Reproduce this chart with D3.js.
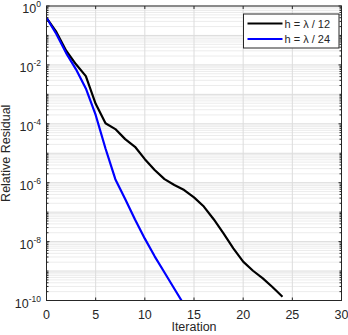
<!DOCTYPE html>
<html>
<head>
<meta charset="utf-8">
<script src="https://cdn.jsdelivr.net/npm/d3@7"></script>
<style>
  body { margin: 0; background: #fff; }
  text { font-family: "Liberation Sans", Arial, sans-serif; fill: #262626; }
</style>
</head>
<body>
<div id="chart"></div>
<script>
// log10 of relative residual per iteration
const iterCoarse = d3.range(0, 25);
const logResCoarse = [-0.40, -0.88, -1.52, -1.98, -2.38, -3.32, -3.98, -4.18, -4.52, -4.78,
    -5.20, -5.57, -5.88, -6.08, -6.25, -6.50, -6.81, -7.24, -7.72, -8.23,
    -8.68, -8.99, -9.25, -9.55, -9.87];
const iterFine = d3.range(0, 15);
const logResFine = [-0.40, -0.95, -1.60, -2.15, -2.80, -3.70, -4.84, -5.88, -6.55, -7.25,
    -7.90, -8.50, -9.05, -9.60, -10.15];

const seriesNames = ["h = \u03bb / 12", "h = \u03bb / 24"];
const xTicks = [0, 5, 10, 15, 20, 25, 30];
const yTickExp = [0, -2, -4, -6, -8, -10];

const W = 348, H = 335;
const margin = {top: 6, right: 6.5, bottom: 34.5, left: 46.5};
const width = W - margin.left - margin.right,
    height = H - margin.top - margin.bottom;

const svg = d3.select("#chart").append("svg")
    .attr("width", W).attr("height", H);
const g = svg.append("g")
    .attr("transform", `translate(${margin.left},${margin.top})`);

const x = d3.scaleLinear().domain([0, 30]).range([0, width]);
const y = d3.scaleLog().domain([1e-10, 1]).range([height, 0]);

// minor grid
const minorVals = [];
for (let e = -10; e < 0; e++) {
    for (let k = 2; k <= 9; k++) minorVals.push(k * Math.pow(10, e));
}
g.append("g").selectAll("line").data(minorVals).join("line")
    .attr("x1", 0).attr("x2", width)
    .attr("y1", d => y(d)).attr("y2", d => y(d))
    .attr("stroke", "#ececec").attr("stroke-width", 1);

// major grid (every decade)
const decades = d3.range(-10, 1).map(e => Math.pow(10, e));
g.append("g").selectAll("line").data(decades).join("line")
    .attr("x1", 0).attr("x2", width)
    .attr("y1", d => y(d)).attr("y2", d => y(d))
    .attr("stroke", "#dcdcdc").attr("stroke-width", 1);
g.append("g").selectAll("line").data(xTicks).join("line")
    .attr("x1", d => x(d)).attr("x2", d => x(d))
    .attr("y1", 0).attr("y2", height)
    .attr("stroke", "#dcdcdc").attr("stroke-width", 1);

// lines
const line = d3.line()
    .x(d => x(d[0]))
    .y(d => y(Math.pow(10, d[1])));

g.append("clipPath").attr("id", "clip")
    .append("rect").attr("width", width).attr("height", height);

const lines = [
    {data: d3.zip(iterCoarse, logResCoarse), color: "#000000"},
    {data: d3.zip(iterFine, logResFine), color: "#0000ff"}
];
g.append("g").attr("clip-path", "url(#clip)")
    .selectAll("path").data(lines).join("path")
    .attr("fill", "none")
    .attr("stroke", d => d.color)
    .attr("stroke-width", 2.2)
    .attr("stroke-linejoin", "round")
    .attr("d", d => line(d.data));

// box
g.append("rect").attr("width", width).attr("height", height)
    .attr("fill", "none").attr("stroke", "#262626").attr("stroke-width", 1);

// ticks (inward)
const tickG = g.append("g").attr("stroke", "#262626").attr("stroke-width", 1);
xTicks.forEach(t => {
    tickG.append("line").attr("x1", x(t)).attr("x2", x(t)).attr("y1", height).attr("y2", height - 3);
    tickG.append("line").attr("x1", x(t)).attr("x2", x(t)).attr("y1", 0).attr("y2", 3);
});
decades.forEach(v => {
    const len = yTickExp.includes(Math.round(Math.log10(v))) ? 3 : 2;
    tickG.append("line").attr("x1", 0).attr("x2", len).attr("y1", y(v)).attr("y2", y(v));
    tickG.append("line").attr("x1", width).attr("x2", width - len).attr("y1", y(v)).attr("y2", y(v));
});
minorVals.forEach(v => {
    tickG.append("line").attr("x1", 0).attr("x2", 2).attr("y1", y(v)).attr("y2", y(v));
    tickG.append("line").attr("x1", width).attr("x2", width - 2).attr("y1", y(v)).attr("y2", y(v));
});

// x tick labels
g.append("g").selectAll("text").data(xTicks).join("text")
    .attr("x", d => x(d)).attr("y", height + 18)
    .attr("text-anchor", "middle")
    .style("font-size", "12.5px")
    .text(d => d);

// y tick labels 10^e
yTickExp.forEach(e => {
    const t = g.append("text")
        .attr("x", -5.5).attr("y", y(Math.pow(10, e)) + 7)
        .attr("text-anchor", "end")
        .style("font-size", "12.5px");
    t.append("tspan").text("10");
    t.append("tspan").attr("dy", -6).style("font-size", "8.5px").text(e);
});

// axis titles
svg.append("text")
    .attr("x", margin.left + width / 2).attr("y", 331)
    .attr("text-anchor", "middle")
    .style("font-size", "12.5px")
    .text("Iteration");
svg.append("text")
    .attr("transform", `translate(9.5,${margin.top + height / 2}) rotate(-90)`)
    .attr("text-anchor", "middle")
    .style("font-size", "12.5px")
    .text("Relative Residual");

// legend
const legend = svg.append("g").attr("transform", "translate(243.5,14)");
legend.append("rect")
    .attr("width", 95.5).attr("height", 34)
    .attr("fill", "#fff").attr("stroke", "#262626").attr("stroke-width", 1);
lines.forEach((d, i) => {
    const ly = 9.5 + i * 15.5;
    legend.append("line")
        .attr("x1", 4).attr("x2", 39).attr("y1", ly).attr("y2", ly)
        .attr("stroke", d.color).attr("stroke-width", 2.2);
    legend.append("text")
        .attr("x", 41).attr("y", ly + 4)
        .style("font-size", "11px")
        .text(seriesNames[i]);
});
</script>
</body>
</html>
